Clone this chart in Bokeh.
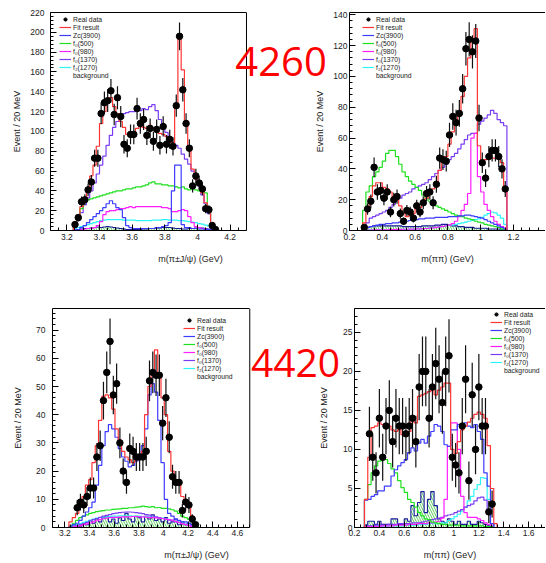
import numpy as np
from bokeh.plotting import figure
from bokeh.models import (Range1d, FixedTicker, CustomJSTickFormatter, Legend, LegendItem, Label,
                          LinearAxis, Span)
from bokeh.layouts import row, column
from bokeh.embed import file_html
from bokeh.resources import INLINE

# ---------------------------------------------------------------- data
# histogram binning (bin lower edge of the first listed bin, bin width)
W_TOP = 0.02
W_BOT = 1.6 / 60
P1_LO, P2_LO = 3.24, 0.28
P3_LO, P4_LO = 3.1 + 5 * W_BOT, 0.2 + 3 * W_BOT

LABELS = ["Real data", "Fit result", "Zc(3900)", "f\u2080(500)", "f\u2080(980)",
          "f\u2080(1370)", "f\u2082(1270)", "background"]
BIG_LABELS = ["4260", "4420"]
YTITLE = "Event / 20 MeV"
XTITLE_JPSI = "m(\u03c0\u00b1J/\u03c8) (GeV)"
XTITLE_PIPI = "m(\u03c0\u03c0) (GeV)"

# --- panel 1 : 4260, m(pi J/psi)
P1_DATA = [6, 13, 29, 31, 41, 49, 73, 73, 118, 129, 131, 141, 117, 134, 115, 87, 83, 97, 97, 123,
           108, 112, 96, 103, 90, 102, 86, 105, 87, 92, 85, 126, 196, 142, 108, 83, 45, 55, 48, 42,
           22, 21, 5, 1]
P1_FIT = [5, 14, 24, 33, 40, 55, 66, 85, 108, 120, 130, 134, 125, 118, 110, 104, 97, 97, 98, 103,
          105, 104, 103, 106, 103, 100, 98, 97, 95, 92, 89, 128, 193, 162, 111, 82, 62, 52, 46, 38,
          28, 20, 8, 2]
P1_ZC = [0.5, 1, 3, 5, 8, 11, 14, 17, 20, 23, 27, 30, 27, 23, 21, 13, 5, 3, 2, 2,
         2, 2, 2, 2, 2, 3, 3, 4, 5, 8, 40, 66, 66, 6, 3, 3, 2, 2, 1.5, 1.5,
         1, 1, 0.5, 0.2]
P1_F500 = [5, 14, 22, 28, 31, 32, 33, 34, 35, 36, 37, 38, 39, 40, 40, 41, 42, 42, 43, 44,
           44, 45, 46, 48, 49, 47, 47, 46, 46, 45, 45, 44, 43, 44, 42, 41, 42, 41, 40, 39,
           38, 20, 5, 1]
P1_F980 = [0.5, 1, 1, 1.5, 2, 2, 3, 5, 9, 16, 19, 20, 20, 21, 22, 22, 23, 24, 23, 24,
           24, 24, 24, 24, 24, 24, 24, 23, 23, 22, 19, 19, 20, 21, 20, 14, 8, 4, 3, 2,
           1.5, 1, 0.5, 0.2]
P1_F1370 = [3, 10, 18, 26, 33, 40, 48, 57, 66, 75, 86, 96, 104, 110, 115, 118, 119, 120, 120, 122,
            121, 123, 122, 125, 127, 121, 112, 106, 99, 93, 89, 86, 83, 77, 72, 67, 60, 52, 45, 36,
            27, 17, 6, 2]
P1_F1270 = [2, 3, 4, 5, 6, 7, 8, 9, 10, 10.5, 11, 11, 11, 11, 11, 10.5, 10.5, 10.5, 10.5, 10,
            10, 10, 10, 10, 10.5, 10.5, 10.5, 11, 11, 10.5, 10.5, 10.5, 10, 10, 9.5, 9, 8.5, 8, 7, 6.5,
            5.5, 4.5, 3, 1]
P1_BKG = [0.5, 1, 1.5, 2, 2, 2.5, 3, 3.5, 3, 3.5, 4, 3.5, 3, 2.5, 2, 1.5, 1, 1, 1, 1,
          1, 1.5, 1.5, 2, 2, 2.5, 2.5, 3, 3, 3, 2.5, 2, 2, 1.5, 1.5, 2, 2, 2.5, 3, 2.5,
          2, 1.5, 1, 0.5]

# --- panel 2 : 4260, m(pi pi)
P2_DATA = [2, 14, 19, 41, 25, 26, 21, 25, 12, 20, 22, 11, 6, 13, 12, 8, 16, 12, 18, 24,
           25, 18, 30, 47, 46, 45, 62, 74, 70, 76, 92, 118, 124, 116, 123, 73, 44, 34, 48, 52,
           52, 48, 40, 27]
P2_FIT = [5, 15, 22, 29, 31, 31, 28, 27, 25, 22, 20, 16, 11, 9, 10, 11, 14, 15, 18, 21,
          24, 27, 31, 39, 44, 48, 56, 64, 69, 76, 87, 100, 112, 124, 131, 55, 45, 46, 47, 47,
          47, 47, 44, 26]
P2_ZC = [1, 2, 2.5, 3, 3.5, 4, 4, 4.5, 4.5, 5, 5, 5.5, 5.5, 6, 6.5, 7, 7, 7.5, 7.5, 8,
         8, 8, 8.5, 8.5, 8.5, 8.5, 9, 9, 9, 9.5, 9.5, 10, 10, 9.5, 9, 8.5, 8, 7, 6, 5,
         4, 3, 2, 1]
P2_F500 = [13, 25, 29, 35, 38, 41, 45, 50, 52, 52, 48, 43, 38, 35, 32, 30, 28, 26, 23, 21,
           19, 17, 16, 15, 14, 13, 12, 11, 10, 9.5, 9, 8, 7.5, 7, 6, 5.5, 5, 4, 3.5, 3,
           2.5, 2, 1, 0.5]
P2_F980 = [0.3, 0.3, 0.3, 0.4, 0.4, 0.5, 0.5, 0.5, 0.6, 0.6, 0.7, 0.7, 0.8, 0.8, 0.9, 0.9, 1, 1, 1.2, 1.3,
           1.5, 1.7, 2, 2.3, 2.7, 3, 3.5, 4.5, 6, 9, 13, 17, 24, 60, 63, 35, 25, 17, 13, 9,
           6, 4, 2.5, 1.5]
P2_F1370 = [2, 5, 8, 9, 10, 11, 12, 13, 15, 17, 20, 21, 23, 24, 25, 27, 28, 29, 30, 31,
            33, 35, 37, 39, 41, 43, 46, 48, 50, 53, 56, 59, 62, 63, 63, 69, 71, 73, 75, 78,
            76, 72, 70, 68]
P2_F1270 = [0.2, 0.2, 0.3, 0.3, 0.3, 0.4, 0.4, 0.5, 0.5, 0.6, 0.6, 0.7, 0.7, 0.8, 0.8, 0.9, 1, 1, 1.2, 1.4,
            1.6, 1.8, 2, 2.3, 2.6, 3, 3.3, 3.6, 4, 4.5, 5, 5.5, 6, 6.5, 7, 7.5, 8.5, 10, 11, 12,
            11.5, 10, 8, 4]
P2_BKG = [1, 2, 2.5, 3, 3, 3, 3, 3, 3, 3, 3, 3, 2.5, 2.5, 2.5, 2.5, 2.5, 2.5, 3, 3,
          3, 3, 3.5, 3.5, 4, 4, 3.5, 3, 3, 2.5, 2.5, 2, 2, 2, 1.5, 1.5, 1.5, 1.5, 1, 1,
          1, 1, 0.5, 0.5]

# --- panel 3 : 4420, m(pi J/psi)
P3_DATA = [0, 0, 7, 9, 8, 11, 14, 14, 25, 29, 45, 55, 66, 47, 51, 30, 20, 16, 28, 27,
           25, 25, 25, 27, 52, 55, 54, 54, 37, 46, 32, 18, 16, 16, 6, 9, 8, 3, 1, 0]
P3_FIT = [2, 3.5, 5, 8.6, 11, 15, 17, 23, 29, 38, 46.5, 47, 46, 42, 35, 31, 27, 25, 24, 23,
          24, 25, 27, 40, 50, 55, 63, 54, 46, 40, 27, 20, 17, 15, 11, 9, 7, 4, 1.5, 0]
P3_ZC = [0.5, 1, 1.5, 2.5, 4, 5.5, 7, 9, 15, 22, 29, 34, 36.5, 35, 32, 28, 25, 23.5, 21.5, 22,
         23.5, 26, 29, 35, 47, 51, 48, 38, 23, 10, 5, 4, 3, 2.5, 2, 2, 1.5, 1, 0.5, 0]
P3_F500 = [0.5, 1.5, 2.5, 3.5, 4, 4.5, 5, 5.3, 5.6, 5.8, 6, 6.2, 6.2, 6.4, 6.5, 6.6, 6.8, 6.8, 7, 7,
           7.2, 7.3, 7.6, 7.4, 7.2, 7.4, 7, 7.1, 6.8, 6.8, 6.6, 6.3, 5.8, 5, 4, 3.5, 3, 2, 0.5, 0]
P3_F980 = [0.2, 0.3, 0.5, 0.7, 1, 1.3, 1.6, 2, 2.4, 2.8, 3.1, 3.3, 3.5, 3.6, 3.6, 3.7, 3.8, 3.8, 3.8, 3.9,
           3.9, 3.8, 3.8, 3.7, 3.6, 3.5, 3.4, 3.3, 3.2, 3, 2.8, 2.6, 2.2, 1.8, 1.4, 1, 0.7, 0.4, 0.2, 0]
P3_F1370 = [0.2, 0.4, 0.6, 1, 1.4, 1.8, 2.3, 2.8, 3.2, 3.6, 4, 4.3, 4.6, 4.9, 5.1, 5.3, 5.4, 5.5, 5.5, 5.4,
            5.3, 5.1, 4.9, 4.6, 4.4, 4.1, 3.8, 3.5, 3.2, 2.9, 2.6, 2.3, 2, 1.7, 1.4, 1.1, 0.8, 0.5, 0.2, 0]
P3_F1270 = [0.3, 0.6, 1, 1.4, 1.8, 2.2, 2.6, 3, 3.3, 3.5, 3.7, 3.8, 3.9, 4, 4, 4.1, 4.1, 4.1, 4.1, 4,
            4, 4, 3.9, 3.9, 3.8, 3.7, 3.6, 3.5, 3.3, 3.1, 2.9, 2.6, 2.3, 2, 1.6, 1.2, 0.8, 0.5, 0.2, 0]
P3_BKG = [0, 0.5, 1, 0.5, 1.5, 1, 2.5, 1.5, 3, 2, 3.5, 4, 2, 3, 1.5, 3.5, 2.5, 5, 3, 2,
          4, 3.5, 2, 4, 3, 4.5, 2.5, 3, 2, 3.5, 1.5, 2, 3, 1, 2, 1, 1.5, 0.5, 0.5, 0]

# --- panel 4 : 4420, m(pi pi)
P4_DATA = [0, 12, 9, 7, 14, 9, 13, 15, 11, 14, 13, 13, 12, 13, 14, 11, 18, 20, 20, 14,
           18, 21, 19, 16, 20, 22, 9, 8, 7, 13, 19, 6, 17, 10, 18, 13, 13, 2, 3, 0]
P4_FIT = [3.6, 9, 12.8, 13, 13.4, 13.2, 12.8, 13, 12.5, 12.3, 12.5, 11.9, 11.9, 12.3, 14, 13.4, 16.8, 17, 17.2, 17.4,
          17.6, 17, 17.6, 18, 18.5, 18.5, 10, 9.5, 11, 12.5, 13, 13.5, 14, 14.5, 14.8, 14.5, 14, 10.5, 5, 0.5]
P4_ZC = [3.5, 3.6, 4, 4.2, 4.7, 4.7, 5.3, 5.3, 6.6, 7.4, 7.9, 8.3, 8.7, 9.6, 10.2, 9.8, 10.8, 11.3, 10.8, 11.7,
         12.3, 13.2, 13, 12.3, 10.6, 10.4, 12.5, 12.5, 13.2, 13.2, 13.4, 13, 12.8, 13.2, 12.3, 11.3, 7, 5.3, 0.5, 0]
P4_F500 = [3.6, 5.5, 7, 7.9, 8.5, 8.7, 8.7, 8.2, 7.5, 7, 6, 5.1, 4.5, 3.6, 3.2, 2.6, 1.9, 1.5, 1.1, 1,
           0.7, 0.6, 0.5, 0.4, 0.4, 0.3, 0.3, 0.3, 0.3, 0.2, 0.2, 0.2, 0.2, 0.2, 0.2, 0.2, 0.1, 0.1, 0.1, 0]
P4_F980 = [0.1, 0.1, 0.1, 0.1, 0.1, 0.2, 0.2, 0.2, 0.2, 0.3, 0.3, 0.3, 0.3, 0.4, 0.4, 0.4, 0.5, 0.5, 0.5, 0.6,
           0.6, 0.7, 0.8, 1.2, 3.6, 10.4, 13.4, 13.4, 10, 4, 1.9, 1.3, 1.3, 1.3, 1.1, 0.9, 0.6, 0.4, 0.2, 0]
P4_F1370 = [0.1, 0.2, 0.2, 0.3, 0.3, 0.3, 0.3, 0.4, 0.4, 0.4, 0.5, 0.5, 0.5, 0.5, 0.6, 0.6, 0.6, 0.7, 0.8, 0.9,
            1, 1.1, 1.2, 1.3, 1.5, 1.6, 1.7, 1.9, 2.1, 2.3, 2.6, 2.8, 3, 3.4, 3.8, 3.9, 3.5, 1.9, 0.5, 0]
P4_F1270 = [0.1, 0.1, 0.1, 0.1, 0.1, 0.1, 0.1, 0.2, 0.2, 0.2, 0.2, 0.2, 0.3, 0.3, 0.3, 0.3, 0.4, 0.4, 0.4, 0.5,
            0.5, 0.5, 0.5, 0.6, 0.6, 0.9, 1.1, 1.4, 1.7, 2.1, 2.6, 3.4, 4, 4.9, 5.5, 6.4, 6.3, 3.6, 0.5, 0]
P4_BKG = [0.3, 0.8, 0.8, 0.4, 0.8, 0.4, 0.4, 0.4, 1.1, 1.1, 0.4, 0.4, 1.1, 0.8, 2.8, 1.5, 3.2, 4.6, 1.9, 3.6,
          4.6, 2.8, 1.1, 0.8, 0.6, 1.1, 0.8, 0.4, 0.8, 0.4, 0.4, 0.8, 0.4, 0.4, 0.8, 0.6, 0.4, 0.3, 0.2, 0]

# axis ticks and histogram frame limits (x0, x1, y0, y1)
P1_XTICKS = [3.2, 3.4, 3.6, 3.8, 4.0, 4.2]
P1_YTICKS = [0, 20, 40, 60, 80, 100, 120, 140, 160, 180, 200, 220]
P2_XTICKS = [0.2, 0.4, 0.6, 0.8, 1.0, 1.2]
P2_YTICKS = [0, 20, 40, 60, 80, 100, 120, 140]
P3_XTICKS = [3.2, 3.4, 3.6, 3.8, 4.0, 4.2, 4.4, 4.6]
P3_YTICKS = [0, 10, 20, 30, 40, 50, 60, 70]
P4_XTICKS = [0.2, 0.4, 0.6, 0.8, 1.0, 1.2, 1.4, 1.6]
P4_YTICKS = [0, 5, 10, 15, 20, 25]
P1_BOX = (3.1, 4.3, 0, 220)
P2_BOX = (0.2, 1.4, 0, 141.5)
P3_BOX = (3.1, 4.7, 0, 77.66)
P4_BOX = (0.2, 1.8, 0, 28.06)

# ---------------------------------------------------------------- style
FONT = "Liberation Sans"
C_FIT, C_ZC, C_F500 = "#ff3535", "#3c3cff", "#1fe01f"
C_F980, C_F1370, C_F1270 = "#ff1eff", "#7a3cf2", "#2ef5f5"
C_BKG, C_HATCH = "#1a1a9c", "#2fbf2f"


def hist_xy(lo, w, vals):
    vals = np.asarray(vals, float)
    edges = lo + w * np.arange(len(vals) + 1)
    xs = np.repeat(edges, 2)
    ys = np.concatenate([[0.0], np.repeat(vals, 2), [0.0]])
    return xs, ys


def minor_list(a, b, step):
    return list(np.round(np.arange(a, b + 1e-9, step), 4))


def panel(sp):
    box = sp["box"]
    xr = (box[0], sp["xend"])
    yr = (box[2], box[3])
    p = figure(width=sp["width"], height=sp["height"],
               x_range=Range1d(*xr), y_range=Range1d(*yr),
               output_backend="svg", toolbar_location=None,
               min_border_left=sp["b"][0], min_border_right=sp["b"][1],
               min_border_top=sp["b"][2], min_border_bottom=sp["b"][3])
    p.xgrid.visible = False
    p.ygrid.visible = False
    p.background_fill_color = "white"
    p.border_fill_color = "white"
    p.outline_line_color = None

    lo, w = sp["lo"], sp["w"]
    bkg = np.asarray(sp["bkg"], float)
    edges = lo + w * np.arange(len(bkg) + 1)
    p.quad(left=edges[:-1], right=edges[1:], bottom=0, top=bkg,
           fill_alpha=0, line_alpha=0, hatch_pattern="\\", hatch_color=C_HATCH,
           hatch_scale=5, hatch_weight=0.8)
    xs, ys = hist_xy(lo, w, bkg)
    p.line(xs, ys, line_color=C_BKG, line_width=1.1)

    rend = {}
    for key, col in (("f1270", C_F1270), ("f1370", C_F1370), ("f980", C_F980),
                     ("f500", C_F500), ("zc", C_ZC), ("fit", C_FIT)):
        xs, ys = hist_xy(lo, w, sp[key])
        rend[key] = p.line(xs, ys, line_color=col, line_width=1.2)

    data = np.asarray(sp["data"], float)
    cent = lo + w * (np.arange(len(data)) + 0.5)
    m = data > 0
    err = np.sqrt(data[m])
    p.segment(x0=cent[m], y0=data[m] - err, x1=cent[m], y1=data[m] + err,
              line_color="#111111", line_width=1.2)
    pts = p.scatter(x=cent[m], y=data[m], size=6.5, marker="circle",
                    fill_color="black", line_color="black")

    dummy = p.quad(left=[], right=[], top=[], bottom=[], fill_alpha=0,
                   line_color=C_BKG, line_width=1, hatch_pattern="\\",
                   hatch_color=C_HATCH, hatch_scale=4, hatch_weight=0.8)

    items = [LegendItem(label=LABELS[0], renderers=[pts]),
             LegendItem(label=LABELS[1], renderers=[rend["fit"]]),
             LegendItem(label=LABELS[2], renderers=[rend["zc"]]),
             LegendItem(label=LABELS[3], renderers=[rend["f500"]]),
             LegendItem(label=LABELS[4], renderers=[rend["f980"]]),
             LegendItem(label=LABELS[5], renderers=[rend["f1370"]]),
             LegendItem(label=LABELS[6], renderers=[rend["f1270"]]),
             LegendItem(label=LABELS[7], renderers=[dummy])]
    leg = Legend(items=items, location=sp["leg"], background_fill_alpha=0,
                 border_line_alpha=0, label_text_font=FONT, label_text_font_size="6.8px",
                 label_text_color="#222222", glyph_width=12, glyph_height=8,
                 label_height=8, label_standoff=2, spacing=0, padding=1, margin=0)
    p.add_layout(leg)

    fmt = "return String(Math.round(tick*1000)/1000);"
    p.xaxis.ticker = FixedTicker(ticks=sp["xt"], minor_ticks=sp["xm"])
    p.yaxis.ticker = FixedTicker(ticks=sp["yt"], minor_ticks=sp["ym"])
    for ax in (p.xaxis[0], p.yaxis[0]):
        ax.formatter = CustomJSTickFormatter(code=fmt)
        ax.major_tick_in = 6
        ax.major_tick_out = 0
        ax.minor_tick_in = 3
        ax.minor_tick_out = 0
        ax.axis_line_color = "black"
        ax.major_tick_line_color = "black"
        ax.minor_tick_line_color = "black"
        ax.major_label_text_font = FONT
        ax.major_label_text_font_size = "8.5px"
        ax.major_label_text_color = "#222222"
        ax.axis_label_text_font = FONT
        ax.axis_label_text_font_size = "9px"
        ax.axis_label_text_font_style = "normal"
        ax.axis_label_text_color = "#222222"
    xb = (box[0], min(box[1], xr[1]))
    p.xaxis.bounds = xb
    p.xaxis.axis_label = sp["xtitle"]
    p.xaxis.major_label_standoff = sp["xls"]
    p.xaxis.axis_label_standoff = sp["xts"]
    p.yaxis.axis_label = sp["ytitle"]
    p.yaxis.major_label_standoff = sp["yls"]
    p.yaxis.axis_label_standoff = sp["yts"]

    # ROOT frame: top edge as a bare axis, right edge as a span when inside the canvas
    top = LinearAxis(ticker=FixedTicker(ticks=[]), bounds=xb, axis_line_color="black",
                     axis_line_width=1, major_tick_in=0, major_tick_out=0,
                     minor_tick_in=0, minor_tick_out=0, major_label_standoff=0,
                     major_label_text_font_size="1px")
    p.add_layout(top, "above")
    if box[1] < xr[1]:
        p.add_layout(Span(location=box[1], dimension="height", line_color="black",
                          line_width=1, line_alpha=1))
    return p


p1 = panel(dict(width=330, height=288, b=(50, 0, 12, 58), xend=4.8143,
                box=P1_BOX, lo=P1_LO, w=W_TOP, data=P1_DATA, fit=P1_FIT, zc=P1_ZC, f500=P1_F500,
                f980=P1_F980, f1370=P1_F1370, f1270=P1_F1270, bkg=P1_BKG,
                leg=(8, 150), xt=P1_XTICKS, xm=minor_list(3.1, 4.3, 0.05),
                yt=P1_YTICKS, ym=minor_list(0, 220, 4), xtitle=XTITLE_JPSI, ytitle=YTITLE,
                xls=3, xts=11, yls=6, yts=5))
p2 = panel(dict(width=215, height=288, b=(18, 0, 12, 58), xend=1.3954,
                box=P2_BOX, lo=P2_LO, w=W_TOP, data=P2_DATA, fit=P2_FIT, zc=P2_ZC, f500=P2_F500,
                f980=P2_F980, f1370=P2_F1370, f1270=P2_F1270, bkg=P2_BKG,
                leg=(12, 150), xt=P2_XTICKS, xm=minor_list(0.2, 1.35, 0.05),
                yt=P2_YTICKS, ym=minor_list(0, 140, 4), xtitle=XTITLE_PIPI, ytitle=None,
                xls=3, xts=11, yls=2, yts=5))
p3 = panel(dict(width=340, height=274, b=(52, 0, 20, 34), xend=5.4358,
                box=P3_BOX, lo=P3_LO, w=W_BOT, data=P3_DATA, fit=P3_FIT, zc=P3_ZC, f500=P3_F500,
                f980=P3_F980, f1370=P3_F1370, f1270=P3_F1270, bkg=P3_BKG,
                leg=(130, 146), xt=P3_XTICKS, xm=minor_list(3.1, 4.7, 0.05),
                yt=P3_YTICKS, ym=minor_list(0, 76, 2), xtitle=XTITLE_JPSI, ytitle=YTITLE,
                xls=2, xts=11, yls=7, yts=10))
p4 = panel(dict(width=205, height=274, b=(13, 0, 20, 34), xend=1.736,
                box=P4_BOX, lo=P4_LO, w=W_BOT, data=P4_DATA, fit=P4_FIT, zc=P4_ZC, f500=P4_F500,
                f980=P4_F980, f1370=P4_F1370, f1270=P4_F1270, bkg=P4_BKG,
                leg=(135, 152), xt=P4_XTICKS, xm=minor_list(0.2, 1.7, 0.05),
                yt=P4_YTICKS, ym=minor_list(0, 28, 1), xtitle=XTITLE_PIPI, ytitle=None,
                xls=2, xts=11, yls=2, yts=13))

# big energy labels and the y titles of the right panels (drawn in the left canvases)
p1.add_layout(Label(x=4.5113, y=170.6, text=BIG_LABELS[0], text_font="Open Sans",
                    text_font_size="40px", text_color="#ff0000", text_align="center",
                    text_baseline="middle"))
p1.add_layout(Label(x=4.747, y=110.0, text=YTITLE, angle=np.pi / 2, text_font=FONT,
                    text_font_size="9px", text_color="#222222", text_align="center",
                    text_baseline="middle"))
p3.add_layout(Label(x=5.0708, y=58.2, text=BIG_LABELS[1], text_font="Open Sans",
                    text_font_size="39px", text_color="#ff0000", text_align="center",
                    text_baseline="middle"))
p3.add_layout(Label(x=5.298, y=38.8, text=YTITLE, angle=np.pi / 2, text_font=FONT,
                    text_font_size="9px", text_color="#222222", text_align="center",
                    text_baseline="middle"))

layout = column(row(p1, p2), row(p3, p4))
open("out.html", "w").write(file_html(layout, INLINE))
